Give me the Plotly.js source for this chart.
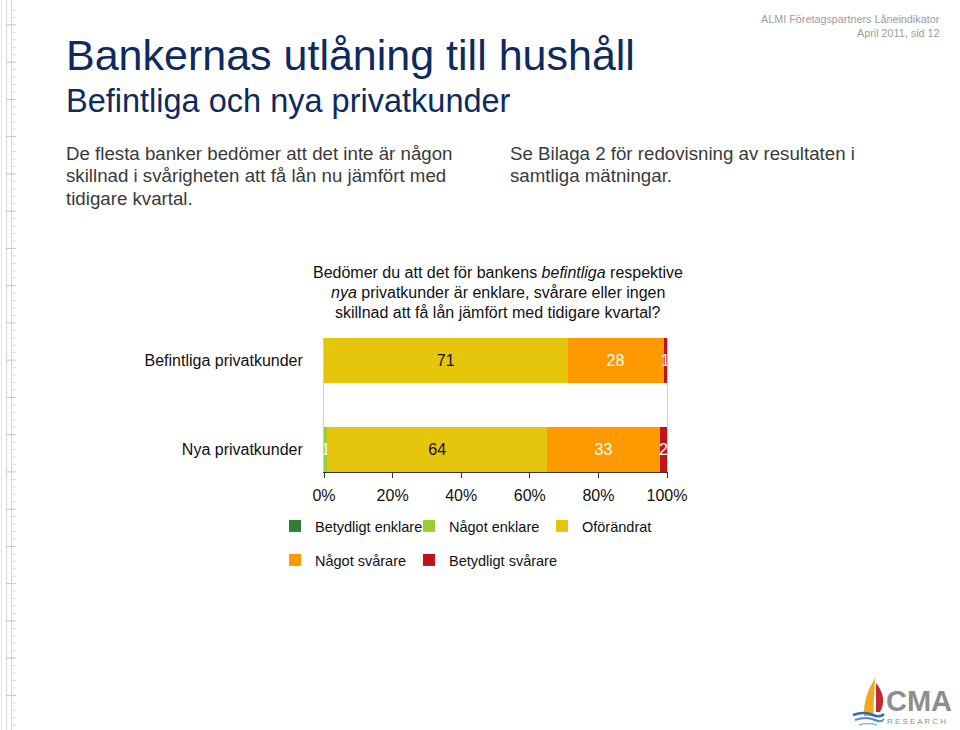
<!DOCTYPE html>
<html><head><meta charset="utf-8">
<script src="https://cdn.plot.ly/plotly-3.0.1.min.js"></script>
<style>html,body{margin:0;padding:0;background:#fff;} #chart{width:960px;height:730px;}</style>
</head><body><div id="chart"></div>
<script>
// ---- data ----
const categories = ["Befintliga privatkunder", "Nya privatkunder"];
const seriesNames = ["Betydligt enklare", "Något enklare", "Oförändrat", "Något svårare", "Betydligt svårare"];
const betydligtEnklare = [0, 0];
const nagotEnklare = [0, 1];
const oforandrat = [71, 64];
const nagotSvarare = [28, 33];
const betydligtSvarare = [1, 2];
const xTickValues = [0, 20, 40, 60, 80, 100];
const xTickLabels = ["0%", "20%", "40%", "60%", "80%", "100%"];

// ---- styles ----
const seriesColors = ["#2E7D3A", "#9ACD32", "#E6C60D", "#FF9900", "#C0141C"];
const textColors = ["#ffffff", "#ffffff", "#111111", "#ffffff", "#ffffff"];
const FONT = "Liberation Sans, Arial, sans-serif";

const L = 324, R = 667, T = 338, B = 472, W = 960, H = 730;
const X = px => (px - L) / (R - L);
const Y = py => (B - py) / (B - T);

// legend slot for each series: [left px of legend item, row centre px]
const legendSlots = [[275, 526], [409, 526], [542, 526], [275, 560], [409, 560]];
const legendIds = ["legend", "legend2", "legend3", "legend4", "legend5"];

const allSeries = [betydligtEnklare, nagotEnklare, oforandrat, nagotSvarare, betydligtSvarare];
const traces = allSeries.map((vals, i) => ({
  type: "bar",
  orientation: "h",
  name: seriesNames[i],
  y: categories,
  x: vals,
  width: 0.5,
  marker: {color: seriesColors[i], line: {width: 0}},
  text: vals.map(v => v > 0 ? String(v) : ""),
  textposition: "inside",
  insidetextanchor: "middle",
  textangle: 0,
  constraintext: "none",
  textfont: {family: FONT, size: 16, color: textColors[i]},
  hoverinfo: "skip",
  legend: legendIds[i]
}));

const navy = "#0E2A5E";
const body = "#3A3A3A";
function ann(text, px, py, size, color, anchor, extra) {
  return Object.assign({
    text: text, xref: "paper", yref: "paper", x: X(px), y: Y(py),
    xanchor: anchor || "left", yanchor: "middle", showarrow: false,
    font: {family: FONT, size: size, color: color}
  }, extra || {});
}
const annotations = [
  ann("Bankernas utlåning till hushåll", 64, 55, 43, navy),
  ann("Befintliga och nya privatkunder", 64, 101, 32.5, navy),
  ann("De flesta banker bedömer att det inte är någon", 64, 153, 18.7, body),
  ann("skillnad i svårigheten att få lån nu jämfört med", 64, 175, 18.7, body),
  ann("tidigare kvartal.", 64, 198, 18.7, body),
  ann("Se Bilaga 2 för redovisning av resultaten i", 508, 153, 18.7, body),
  ann("samtliga mätningar.", 508, 175, 18.7, body),
  ann("ALMI Företagspartners Låneindikator", 942, 19, 10.8, "#9C9C9C", "right"),
  ann("April 2011, sid 12", 942, 33, 10.8, "#9C9C9C", "right"),
  ann("Bedömer du att det för bankens <i>befintliga</i> respektive", 497.5, 272, 16, "#111111", "center"),
  ann("<i>nya</i> privatkunder är enklare, svårare eller ingen", 497.5, 292, 16, "#111111", "center"),
  ann("skillnad att få lån jämfört med tidigare kvartal?", 497.5, 312, 16, "#111111", "center"),
  ann("<b>CMA</b>", 884, 701, 29, "#8E8E8E", "left"),
  ann("R E S E A R C H", 885, 721, 8, "#8E8E8E", "left")
];

// ---- decorative shapes (left ruler, logo) ----
const shapes = [];
function line(x0, y0, x1, y1, color, w) {
  shapes.push({type: "line", xref: "paper", yref: "paper", x0: X(x0), y0: Y(y0), x1: X(x1), y1: Y(y1),
    line: {color: color, width: w || 1}, layer: "below"});
}
line(1.5, 0, 1.5, H, "#E2E2E2");
line(6.5, 0, 6.5, H, "#D6D6D6");
line(11.5, 0, 11.5, H, "#D6D6D6");
for (let k = 0; k * 7.45 < H; k++) {
  const py = 10 + k * 7.45;
  if (k % 5 === 2) line(6.5, py, 16, py, "#C4C4C4");
  else line(11.5, py, 16, py, "#DCDCDC");
}
function path(pts) {
  return pts.map((p, i) => (i === 0 ? "M" : (p.length === 4 ? "Q" : "L")) +
    (p.length === 4 ? X(p[0]) + "," + Y(p[1]) + " " + X(p[2]) + "," + Y(p[3]) : X(p[0]) + "," + Y(p[1]))).join(" ");
}
shapes.push({type: "path", xref: "paper", yref: "paper", path: path([[864, 716], [863, 697, 875, 678], [873, 716]]) + " Z",
  fillcolor: "#F0A81C", line: {width: 0}});
shapes.push({type: "path", xref: "paper", yref: "paper", path: path([[876, 683], [888, 698, 880, 712], [876, 712]]) + " Z",
  fillcolor: "#C02A30", line: {width: 0}});
shapes.push({type: "path", xref: "paper", yref: "paper", path: path([[853, 715], [864, 711, 873, 715], [880, 718, 884, 714]]),
  line: {color: "#2E6DB4", width: 2.5}});
shapes.push({type: "path", xref: "paper", yref: "paper", path: path([[855, 720], [866, 716, 875, 720], [881, 723, 884, 719]]),
  line: {color: "#4A90D0", width: 2}});
shapes.push({type: "path", xref: "paper", yref: "paper", path: path([[859, 725], [868, 722, 877, 725]]),
  line: {color: "#7FB5E3", width: 1.5}});

const layout = {
  width: W, height: H,
  margin: {l: L, r: W - R, t: T, b: H - B, pad: 0},
  paper_bgcolor: "#ffffff", plot_bgcolor: "#ffffff",
  barmode: "stack",
  font: {family: FONT, color: "#111111"},
  xaxis: {
    range: [0, 100], tickvals: xTickValues, ticktext: xTickLabels,
    showgrid: false, zeroline: false, showline: true, linecolor: "#333333", linewidth: 1,
    ticks: "outside", ticklen: 5, tickcolor: "#333333", ticklabelstandoff: 4,
    tickfont: {family: FONT, size: 16, color: "#111111"}, fixedrange: true
  },
  yaxis: {
    type: "category", categoryarray: categories, categoryorder: "array",
    range: [1.25, -0.25],
    showgrid: false, zeroline: false, showline: true, mirror: true, linecolor: "#C9CCD8", linewidth: 1,
    ticks: "", ticklabelstandoff: 17,
    tickfont: {family: FONT, size: 16, color: "#111111"}, fixedrange: true
  },
  annotations: annotations,
  shapes: shapes,
  showlegend: true
};
legendIds.forEach((id, i) => {
  layout[id] = {
    orientation: "h", xref: "container", yref: "container",
    x: legendSlots[i][0] / W, y: 1 - legendSlots[i][1] / H, xanchor: "left", yanchor: "middle",
    font: {family: FONT, size: 14.5, color: "#111111"}, bgcolor: "rgba(0,0,0,0)"
  };
});

Plotly.newPlot("chart", traces, layout, {displayModeBar: false, staticPlot: true});
</script>
</body></html>
